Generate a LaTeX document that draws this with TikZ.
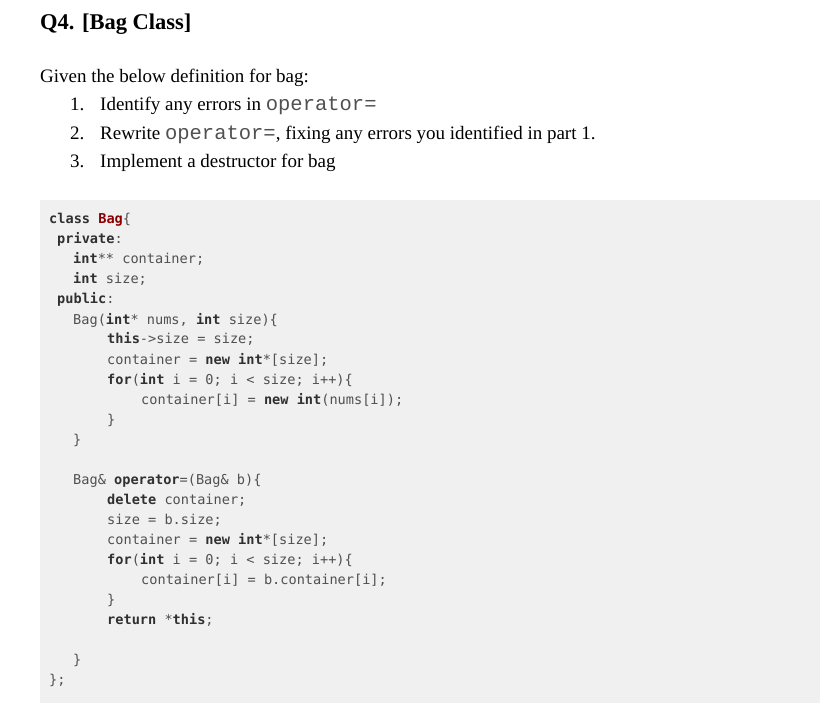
\documentclass[tikz,border=0pt]{standalone}
\usepackage{fontspec}
\setmainfont{Liberation Serif}
\setmonofont{DejaVu Sans Mono}
\newfontfamily\cour{Liberation Mono}
\definecolor{codebg}{HTML}{F0F0F0}
\definecolor{kw}{HTML}{303030}
\definecolor{pl}{HTML}{505050}
\definecolor{cls}{HTML}{8B0000}
\newcommand{\K}[1]{\textbf{\color{kw}#1}}
\newcommand{\opr}{{\cour\fontsize{20.5}{22}\selectfont\color{pl}operator=}}
\tikzset{codeline/.style={anchor=base west,inner sep=0pt,font=\ttfamily\fontsize{13.6}{16}\selectfont,text=pl},
  txt/.style={anchor=base west,inner sep=0pt,font=\fontsize{19}{22}\selectfont}}
\begin{document}
\begin{tikzpicture}[x=1pt,y=-1pt]
\useasboundingbox (0,0) rectangle (824,708);
\fill[codebg] (40,200) rectangle (820,703);
\node[anchor=base west,inner sep=0pt,font=\bfseries\fontsize{22.5}{26}\selectfont] (h) at (40,30) {Q4. [Bag Class]};
\node[txt] (t0) at (40,83) {Given the below definition for bag:};
\node[txt] (n1) at (70,111) {1.};
\node[txt] (t1) at (100,111) {Identify any errors in \opr};
\node[txt] (n2) at (70,140) {2.};
\node[txt] (t2) at (100,140) {Rewrite \opr, fixing any errors you identified in part 1.};
\node[txt] (n3) at (70,168) {3.};
\node[txt] (t3) at (100,168) {Implement a destructor for bag};
\node[codeline] (c1) at (49,224) {\K{class} \textbf{\color{cls}Bag}\{};
\node[codeline] (c2) at (57,244) {\K{private}:};
\node[codeline] (c3) at (73,264) {\K{int}** container;};
\node[codeline] (c4) at (73,284) {\K{int} size;};
\node[codeline] (c5) at (57,304) {\K{public}:};
\node[codeline] (c6) at (73,324) {Bag(\K{int}* nums, \K{int} size)\{};
\node[codeline] (c7) at (107,344) {\K{this}->size = size;};
\node[codeline] (c8) at (107,364) {container = \K{new} \K{int}*[size];};
\node[codeline] (c9) at (107,384) {\K{for}(\K{int} i = 0; i < size; i++)\{};
\node[codeline] (c10) at (141,404) {container[i] = \K{new} \K{int}(nums[i]);};
\node[codeline] (c11) at (107,424) {\}};
\node[codeline] (c12) at (73,444) {\}};
\node[codeline] (c13) at (73,484) {Bag\& \K{operator}=(Bag\& b)\{};
\node[codeline] (c14) at (107,504) {\K{delete} container;};
\node[codeline] (c15) at (107,524) {size = b.size;};
\node[codeline] (c16) at (107,544) {container = \K{new} \K{int}*[size];};
\node[codeline] (c17) at (107,564) {\K{for}(\K{int} i = 0; i < size; i++)\{};
\node[codeline] (c18) at (141,584) {container[i] = b.container[i];};
\node[codeline] (c19) at (107,604) {\}};
\node[codeline] (c20) at (107,624) {\K{return} *\K{this};};
\node[codeline] (c21) at (73,664) {\}};
\node[codeline] (c22) at (49,684) {\};};
\end{tikzpicture}
\end{document}
